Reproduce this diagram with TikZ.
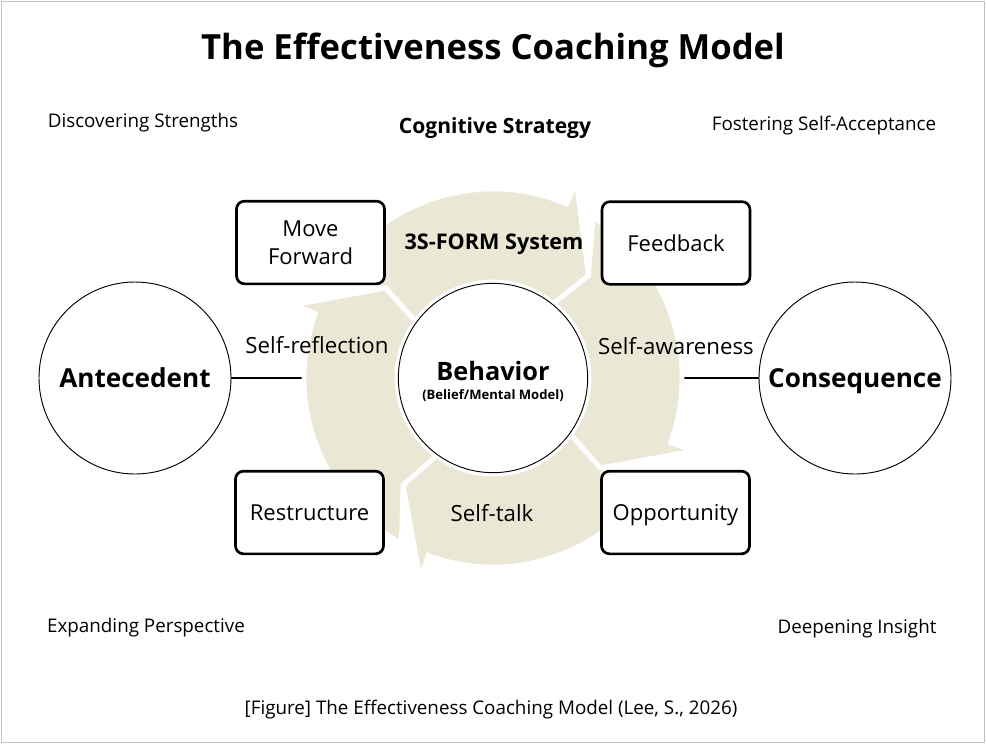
\documentclass[tikz,border=0pt]{standalone}
\usepackage{fontspec}
\setmainfont{Open Sans}
\usepackage{tikz}
\usetikzlibrary{backgrounds}
\definecolor{ring}{HTML}{EAE8D5}
\definecolor{frame}{HTML}{C0C0C0}
\tikzset{
  box/.style={draw=black,line width=2pt,rounded corners=6pt,fill=white,minimum width=111pt,minimum height=62pt,inner sep=2pt,font=\fontsize{16.5}{21}\selectfont,align=center},
  circ/.style={circle,draw=black,line width=0.7pt,fill=white,minimum size=144pt,inner sep=0pt,align=center},
  lab/.style={font=\fontsize{16.7}{20}\selectfont},
  blab/.style={font=\bfseries\fontsize{15.8}{19}\selectfont},
  corner/.style={font=\fontsize{14.1}{17}\selectfont},
  seg/.style={fill=ring,draw=white,line width=3.6pt,line join=miter},
}
\begin{document}
\begin{tikzpicture}[x=0.75pt,y=0.75pt]
\useasboundingbox (0,0) rectangle (986,-744);
\draw[frame,line width=1.2pt] (1.5,-1.5) rectangle (984.5,-742.5);
% title and corner texts
\node[font=\bfseries\fontsize{26}{31}\selectfont] (title) at (493,-50) {The Effectiveness Coaching Model};
\node[corner] (str) at (143,-123) {Discovering Strengths};
\node[blab] (cog) at (495,-128) {Cognitive Strategy};
\node[corner] (acc) at (824,-126) {Fostering Self-Acceptance};
\node[corner] (per) at (146,-628) {Expanding Perspective};
\node[corner] (ins) at (857,-629) {Deepening Insight};
\node[corner] (cap) at (491,-710) {[Figure] The Effectiveness Coaching Model (Lee, S., 2026)};
% circles
\node[circ,font=\bfseries\fontsize{19.6}{23}\selectfont] (ant) at (135,-378) {Antecedent};
\node[circ,font=\bfseries\fontsize{19.6}{23}\selectfont,text depth=0pt] (con) at (855,-378) {Consequence};
\node[circ,minimum size=142pt] (beh) at (493,-378) {{\bfseries\fontsize{19}{21}\selectfont\rule{0pt}{20pt}Behavior}\\[2.5pt]{\bfseries\fontsize{9.8}{11}\selectfont (Belief/Mental Model)}};
% boxes
\node[box] (mov) at (310.5,-242.5) {Move\\Forward};
\node[box] (fee) at (676,-243) {Feedback};
\node[box] (res) at (309.5,-512.5) {Restructure};
\node[box,text depth=0pt] (opp) at (675.5,-512.5) {Opportunity};
% labels on the cycle
\node[blab,font=\bfseries\fontsize{16.2}{19}\selectfont] (sys) at (494,-244) {3S-FORM System};
\node[lab] (ref) at (317,-345) {Self-reflection};
\node[lab] (awa) at (676,-346) {Self-awareness};
\node[lab] (tal) at (492,-513) {Self-talk};
\begin{scope}[on background layer]
\draw[line width=1pt] (ant) -- (beh);
\draw[line width=1pt] (beh) -- (con);
\begin{scope}[shift={(493,-378)}]
\foreach \t/\p in {47/140,-40/47,-130/-40,140/230}
  \path[seg] ({\p+4}:96) -- (\p:140) -- ({\p+11}:189)
    arc[start angle=\p+11,end angle=\t+20,radius=189] -- ({\t+20}:213)
    -- (\t:140) -- ({\t+4}:96) arc[start angle=\t+4,end angle=\p+4,radius=96] -- cycle;
\end{scope}
\end{scope}
\end{tikzpicture}
\end{document}
